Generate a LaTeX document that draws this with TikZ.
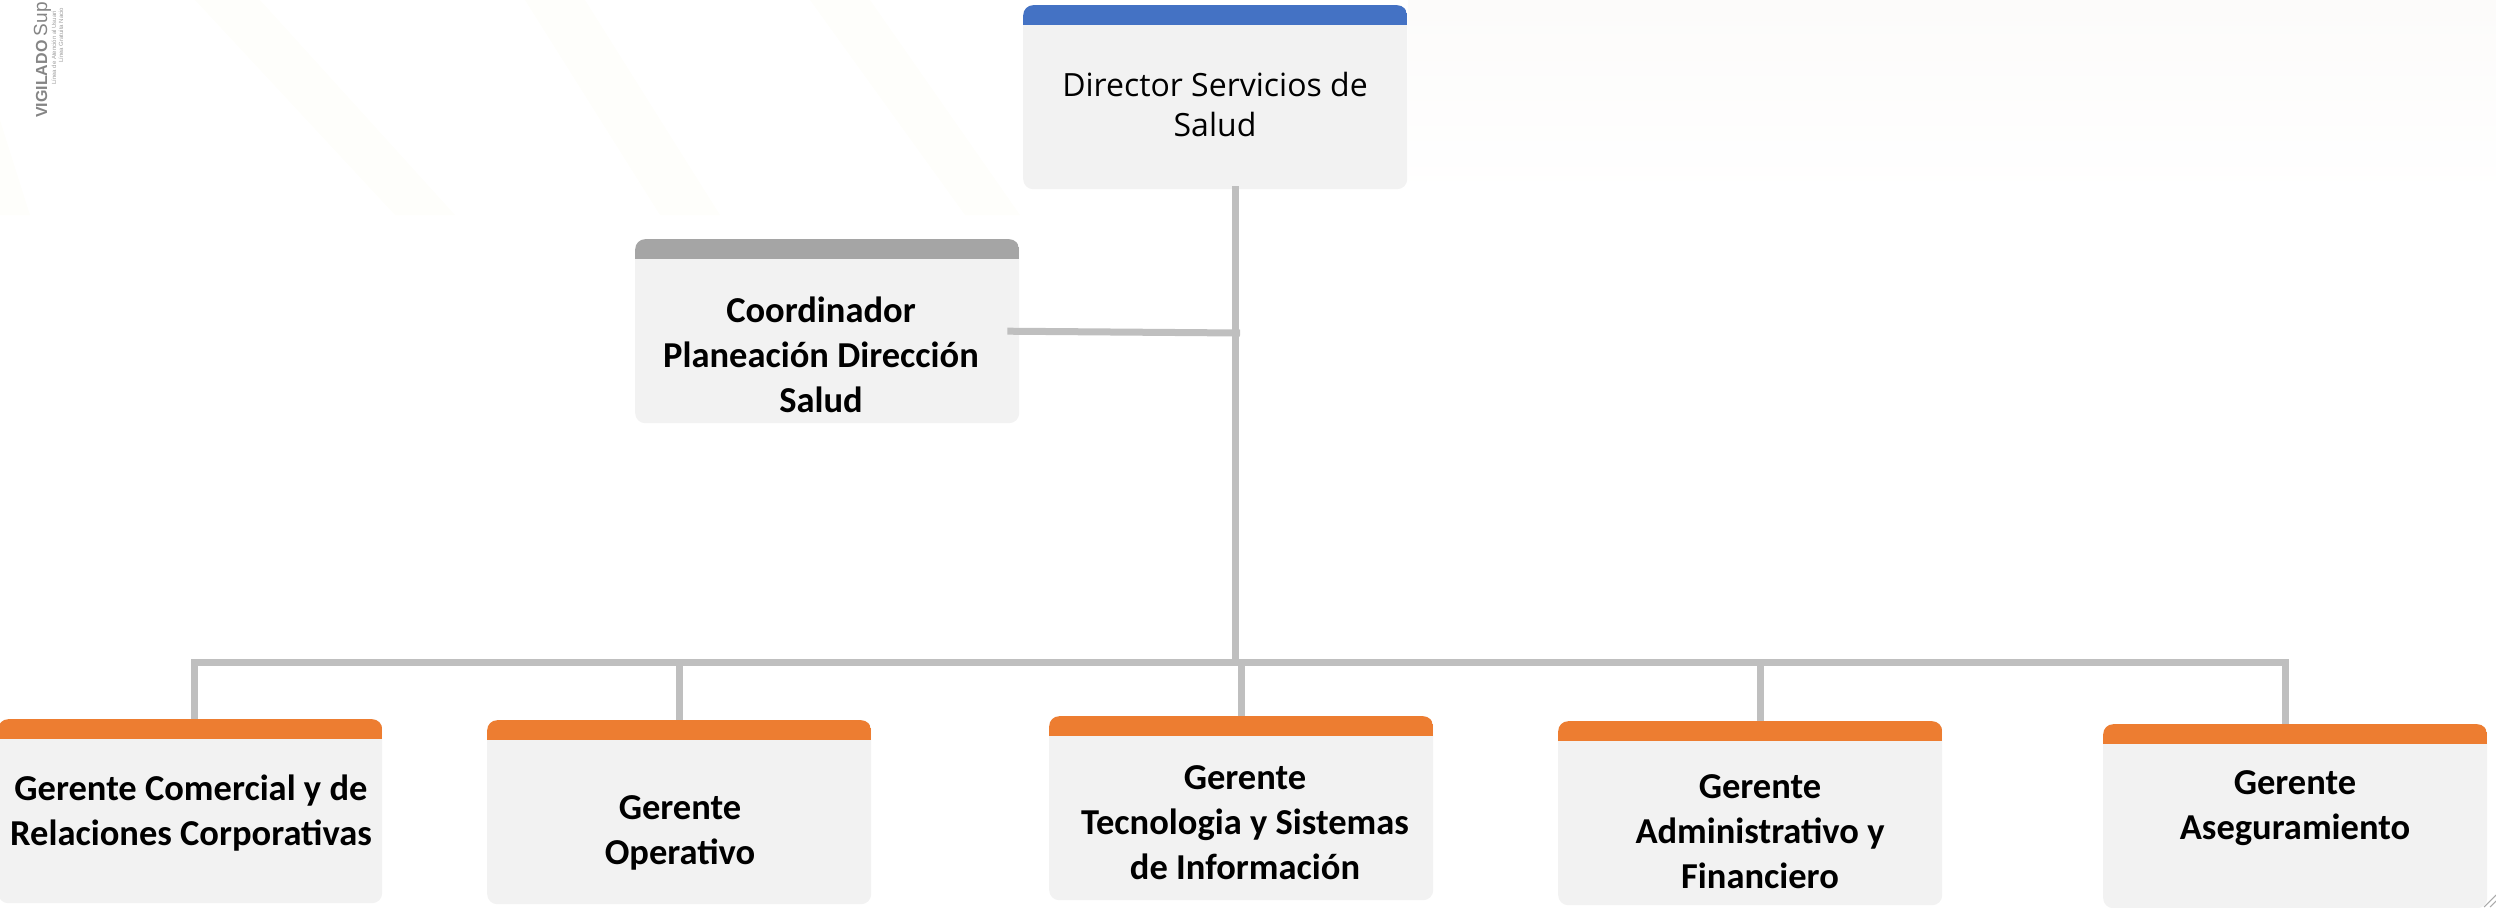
\documentclass[tikz,border=0pt]{standalone}
\usepackage{fontspec}
\setmainfont{Carlito}
\newfontfamily\osans{Open Sans}
\newfontfamily\wmfont{Liberation Sans}
\definecolor{boxfill}{HTML}{F2F2F2}
\definecolor{hblue}{HTML}{4472C4}
\definecolor{hgray}{HTML}{A5A5A5}
\definecolor{horange}{HTML}{ED7D31}
\definecolor{connc}{HTML}{BFBFBF}
\definecolor{faint}{RGB}{254,254,251}
\definecolor{faintbg}{RGB}{252,251,250}
\definecolor{wmgray}{HTML}{858585}
\tikzset{
  orgbox/.style={fill=boxfill, rounded corners=10pt, inner sep=0pt, anchor=north west,
    minimum width=384pt, minimum height=184pt,
    path picture={\fill[#1, sharp corners] (path picture bounding box.north west) rectangle ([yshift=-20pt]path picture bounding box.north east);}},
  boldlbl/.style={align=center, inner sep=0pt, font=\bfseries\fontsize{36.5}{45}\selectfont},
  reglbl/.style={align=center, inner sep=0pt, font=\osans\fontsize{32}{40}\selectfont},
  conn/.style={draw=connc, line width=7pt},
  stripe/.style={fill=faint, draw=none}
}
\begin{document}
\begin{tikzpicture}[x=1pt,y=-1pt]
\useasboundingbox (0,0) rectangle (2496,907);
% faint background
\shade[top color=faintbg, bottom color=white, draw=none] (1408,0) rectangle (2496,200);
\fill[stripe] (0,120) -- (0,215) -- (30,215) -- cycle;
\fill[stripe] (195,0) -- (260,0) -- (455,215) -- (395,215) -- cycle;
\fill[stripe] (525,0) -- (585,0) -- (720,215) -- (660,215) -- cycle;
\fill[stripe] (810,0) -- (870,0) -- (1020,215) -- (965,215) -- cycle;
% watermark
\node[rotate=90, anchor=base west, inner sep=0pt, text=wmgray, font=\wmfont\fontsize{16}{16}\selectfont] (wm1) at (47,118) {\textbf{VIGILADO} {\fontsize{19}{19}\selectfont Sup}};
\node[rotate=90, anchor=base west, inner sep=0pt, text=wmgray!80, font=\wmfont\fontsize{6}{6}\selectfont] (wm2) at (56,85) {Línea de Atención al Usuari};
\node[rotate=90, anchor=base west, inner sep=0pt, text=wmgray!80, font=\wmfont\fontsize{6}{6}\selectfont] (wm3) at (63,63) {Línea Gratuita Nacio};

% boxes
\node[orgbox=hblue] (dir) at (1023,5) {};
\node[orgbox=hgray] (coo) at (635,239) {};
\node[orgbox=horange] (g1) at (-2,719) {};
\node[orgbox=horange] (g2) at (487,720) {};
\node[orgbox=horange] (g3) at (1049,716) {};
\node[orgbox=horange] (g4) at (1558,721) {};
\node[orgbox=horange] (g5) at (2103,724) {};

% connectors
\coordinate (trunkTop) at (1235,186);
\coordinate (trunkBot) at (1235,662);
\coordinate (cooJoin) at (1240,333);
\draw[conn] (trunkTop) -- (trunkBot);
\draw[conn] ([xshift=-12pt]coo.east) -- (cooJoin);
\draw[conn] (g1.north) ++(4,0) |- (trunkBot);
\draw[conn] (trunkBot) -| ([xshift=-10pt]g5.north);
\draw[conn] (g2.north) -- (g2.north |- trunkBot);
\draw[conn] (g3.north) -- (g3.north |- trunkBot);
\draw[conn] ([xshift=10pt]g4.north) -- ([xshift=10pt]g4.north |- trunkBot);

% corner mark
\draw[wmgray!70, line width=1pt] (2484,907) -- (2496,895);
\draw[wmgray!70, line width=1pt] (2490,907) -- (2496,901);

% labels
\node[reglbl] (tdir) at (1215,104) {Director Servicios de\\Salud};
\node[boldlbl] (tcoo) at (821,355) {Coordinador\\Planeación Dirección\\Salud};
\node[boldlbl] (t1) at (191,813) {Gerente Comercial y de\\Relaciones Corporativas};
\node[boldlbl] (t2) at (680,833) {Gerente\\Operativo};
\node[boldlbl] (t3) at (1245,823) {Gerente\\Tecnologia y Sistemas\\de Información};
\node[boldlbl] (t4) at (1760,832) {Gerente\\Administrativo y\\Financiero};
\node[boldlbl] (t5) at (2295,808) {Gerente\\Aseguramiento};
\end{tikzpicture}
\end{document}
